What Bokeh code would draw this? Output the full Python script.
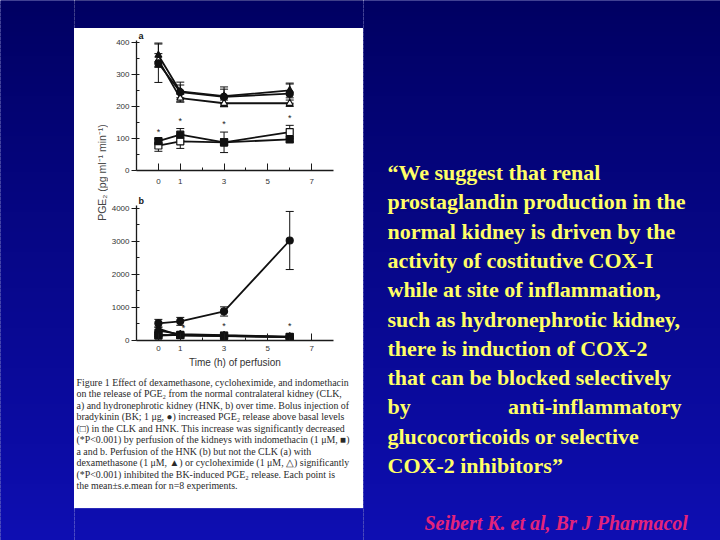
import numpy as np
from bokeh.plotting import figure
from bokeh.layouts import row, column
from bokeh.models import (Range1d, FixedTicker, SingleIntervalTicker, Whisker,
                          TeeHead, ColumnDataSource)
from bokeh.core.properties import value
from bokeh.embed import file_html
from bokeh.resources import INLINE

# ---------------- data ----------------
hours = [0, 1, 3, 6]
x_ticks = [0, 1, 3, 5, 7]
x_minor = [2, 4, 6]

# panel a : normal contralateral kidney (CLK)
a_bk = [335, 245, 230, 240]
a_bk_err = [60, 31, 31, 30]
a_dex = [360, 247, 232, 250]
a_dex_err = [38, 20, 22, 23]
a_cyc = [345, 226, 210, 210]
a_cyc_err = [20, 12, 10, 10]
a_indo = [92, 112, 88, 97]
a_indo_err = [8, 19, 10, 8]
a_basal = [78, 91, 88, 120]
a_basal_err = [18, 22, 32, 21]
a_star_x = [0, 1, 3, 6]
a_star_y = [120, 156, 144, 165]

# panel b : hydronephrotic kidney (HNK)
b_bk = [520, 580, 880, 3030]
b_bk_err = [120, 120, 140, 880]
b_dex = [360, 150, 130, 100]
b_dex_err = [50, 30, 30, 30]
b_cyc = [300, 190, 160, 120]
b_cyc_err = [40, 30, 30, 30]
b_indo = [170, 160, 140, 100]
b_indo_err = [30, 30, 30, 30]
b_basal = [150, 170, 150, 110]
b_basal_err = [30, 30, 30, 30]
b_star_x = [1.15, 3, 6]
b_star_y = [390, 450, 450]

y_label = "PGE\u2082 (pg ml\u207b\u00b9 min\u207b\u00b9)"
x_label = "Time (h) of perfusion"

caption_lines = [
    "Figure 1   Effect of dexamethasone, cycloheximide, and indomethacin",
    "on the release of PGE\u2082 from the normal contralateral kidney (CLK,",
    "a) and hydronephrotic kidney (HNK, b) over time. Bolus injection of",
    "bradykinin (BK; 1 \u03bcg, \u25cf) increased PGE\u2082 release above basal levels",
    "(\u25a1) in the CLK and HNK. This increase was significantly decreased",
    "(*P<0.001) by perfusion of the kidneys with indomethacin (1 \u03bcM, \u25a0)",
    "a and b. Perfusion of the HNK (b) but not the CLK (a) with",
    "dexamethasone (1 \u03bcM, \u25b2) or cycloheximide (1 \u03bcM, \u25b3) significantly",
    "(*P<0.001) inhibited the BK-induced PGE\u2082 release. Each point is",
    "the mean\u00b1s.e.mean for n=8 experiments.",
]

quote_lines = [
    "\u201cWe suggest that renal",
    "prostaglandin production in the",
    "normal kidney is driven by the",
    "activity of costitutive COX-I",
    "while at site of inflammation,",
    "such as hydronephrotic kidney,",
    "there is induction of COX-2",
    "that can be blocked selectively",
    "by\tanti-inflammatory",
    "glucocorticoids or selective",
    "COX-2 inhibitors\u201d",
]
citation = "Seibert K. et al, Br J Pharmacol"

# ---------------- helpers ----------------
TOP_RGB = np.array([0, 0, 98])
BOT_RGB = np.array([14, 14, 178])


def grad_color(y):
    f = min(max(y / 540.0, 0), 1)
    c = TOP_RGB + (BOT_RGB - TOP_RGB) * f
    return "#%02x%02x%02x" % tuple(int(round(v)) for v in c)


def blue_fig(w, h, x0, x1, y0, y1):
    p = figure(width=w, height=h, x_range=Range1d(x0, x1), y_range=Range1d(y1, y0),
               x_axis_type=None, y_axis_type=None, output_backend="svg",
               toolbar_location=None, min_border=0, outline_line_color=None,
               background_fill_color=grad_color((y0 + y1) / 2),
               border_fill_color=grad_color((y0 + y1) / 2))
    step = 4
    tops = np.arange(0, 544, step)
    p.quad(left=x0 - 10, right=x1 + 10, top=tops - 0.6, bottom=tops + step + 0.6,
           fill_color=[grad_color(t + step / 2) for t in tops], line_color=None)
    return p


def white_fig(w, h, x0, x1, y0, y1):
    p = figure(width=w, height=h, x_range=Range1d(x0, x1), y_range=Range1d(y1, y0),
               x_axis_type=None, y_axis_type=None, output_backend="svg",
               toolbar_location=None, min_border=0, outline_line_color=None,
               background_fill_color="white", border_fill_color="white")
    return p


def panel(h, ymax, interval, top, bottom, letter, series, star_x, star_y,
          label_standoff, xlabel=None):
    p = figure(width=255, height=h, x_range=Range1d(-1, 8), y_range=Range1d(0, ymax),
               min_border_left=27, min_border_right=30, min_border_top=top,
               min_border_bottom=bottom, output_backend="svg", toolbar_location=None,
               outline_line_color=None, background_fill_color="white",
               border_fill_color="white")
    p.title.text = letter
    p.title.text_font = "Liberation Sans"
    p.title.text_font_size = "9px"
    p.title.text_font_style = "bold"
    p.title.text_color = "#111111"
    p.title.align = "left"
    p.title.offset = 2
    p.title.standoff = 0
    p.xgrid.visible = False
    p.ygrid.visible = False
    p.xaxis.ticker = FixedTicker(ticks=x_ticks, minor_ticks=x_minor)
    p.yaxis.ticker = SingleIntervalTicker(interval=interval, num_minor_ticks=2)
    for ax in (p.xaxis, p.yaxis):
        ax.axis_line_color = "#1a1a1a"
        ax.axis_line_width = 1.3
        ax.major_tick_line_color = "#1a1a1a"
        ax.minor_tick_line_color = "#1a1a1a"
        ax.major_label_text_font = "Liberation Sans"
        ax.major_label_text_font_size = "8px"
        ax.major_label_text_color = "#333333"
    p.xaxis.major_tick_in = 7
    p.xaxis.major_tick_out = 0
    p.xaxis.minor_tick_in = 3
    p.xaxis.minor_tick_out = 0
    p.xaxis.major_label_standoff = label_standoff
    p.yaxis.major_tick_in = 0
    p.yaxis.major_tick_out = 5
    p.yaxis.minor_tick_in = 3
    p.yaxis.minor_tick_out = 0
    p.yaxis.major_label_standoff = 2
    if xlabel:
        p.xaxis.axis_label = xlabel
        p.xaxis.axis_label_text_font = "Liberation Sans"
        p.xaxis.axis_label_text_font_size = "10px"
        p.xaxis.axis_label_text_font_style = "normal"
        p.xaxis.axis_label_text_color = "#333333"
        p.xaxis.axis_label_standoff = 3

    for vals, err, marker, fill in series:
        p.line(hours, vals, line_color="#111111", line_width=1.8)
    for vals, err, marker, fill in series:
        src = ColumnDataSource(dict(x=hours,
                                    lo=[v - e for v, e in zip(vals, err)],
                                    hi=[v + e for v, e in zip(vals, err)]))
        p.add_layout(Whisker(source=src, base="x", upper="hi", lower="lo",
                             line_color="#111111", line_width=1,
                             upper_head=TeeHead(size=8, line_color="#111111", line_width=1),
                             lower_head=TeeHead(size=8, line_color="#111111", line_width=1)))
    for vals, err, marker, fill in series:
        p.scatter(hours, vals, marker=marker, size=7, fill_color=fill,
                  line_color="#111111", line_width=1.2)
    p.text(x=star_x, y=star_y, text=["*"] * len(star_x), text_align="center",
           text_baseline="middle", text_font=value("Liberation Sans"),
           text_font_size="9px", text_color="#222222")
    return p


# ---------------- panels ----------------
series_a = [
    (a_basal, a_basal_err, "square", "white"),
    (a_indo, a_indo_err, "square", "#111111"),
    (a_cyc, a_cyc_err, "triangle", "white"),
    (a_bk, a_bk_err, "circle", "#111111"),
    (a_dex, a_dex_err, "triangle", "#111111"),
]
series_b = [
    (b_basal, b_basal_err, "square", "white"),
    (b_cyc, b_cyc_err, "triangle", "white"),
    (b_indo, b_indo_err, "square", "#111111"),
    (b_dex, b_dex_err, "triangle", "#111111"),
    (b_bk, b_bk_err, "circle", "#111111"),
]

pa = panel(160, 406, 100, 12, 18, "a", series_a, a_star_x, a_star_y, 8)
pb = panel(184, 4090, 1000, 17, 32, "b", series_b, b_star_x, b_star_y, 5, x_label)

# y label strip
py = white_fig(34, 344, 74, 108, 28, 372)
py.text(x=[101], y=[172], text=[y_label], angle=np.pi / 2, text_align="center",
        text_baseline="middle", text_font=value("Liberation Sans"),
        text_font_size="10.5px", text_color="#444444")

# caption
pc = white_fig(289, 136, 74, 363, 372, 508)
cap_y = [381.5 + 11.5 * i for i in range(len(caption_lines))]
pc.text(x=[76] * len(caption_lines), y=cap_y, text=caption_lines,
        text_baseline="middle", text_font=value("Liberation Serif"),
        text_font_size="9.9px", text_color="#2a2a2a")

# blue surroundings (slide background)
p_left = blue_fig(74, 540, 0, 74, 0, 540)
p_top = blue_fig(289, 28, 74, 363, 0, 28)
p_bot = blue_fig(289, 32, 74, 363, 508, 540)
p_right = blue_fig(357, 540, 363, 720, 0, 540)

q_y = [172 + 29.3 * i for i in range(len(quote_lines))]
left_txt, left_y, right_txt, right_y = [], [], [], []
for t, y in zip(quote_lines, q_y):
    if "\t" in t:
        a, b = t.split("\t")
        left_txt.append(a)
        left_y.append(y)
        right_txt.append(b)
        right_y.append(y)
    else:
        left_txt.append(t)
        left_y.append(y)
p_right.text(x=[387] * len(left_txt), y=left_y, text=left_txt, text_baseline="middle",
             text_font=value("Liberation Serif"), text_font_style="bold",
             text_font_size="22px", text_color="#ffff66")
p_right.text(x=[681] * len(right_txt), y=right_y, text=right_txt, text_align="right",
             text_baseline="middle", text_font=value("Liberation Serif"),
             text_font_style="bold", text_font_size="22px", text_color="#ffff66")
p_right.text(x=[424], y=[522], text=[citation], text_baseline="middle",
             text_font=value("Liberation Serif"), text_font_style="bold italic",
             text_font_size="20px", text_color="#e3237b")

middle = column(p_top, row(py, column(pa, pb)), pc, p_bot)
layout = row(p_left, middle, p_right)

open("out.html", "w").write(file_html(layout, INLINE))
